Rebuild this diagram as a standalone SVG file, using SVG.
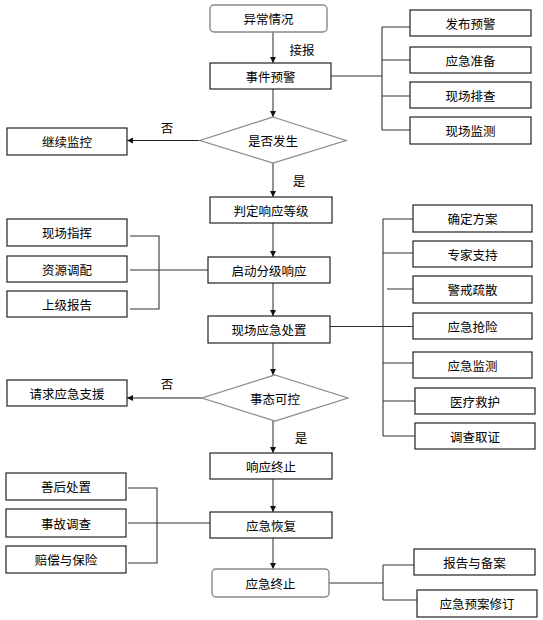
<svg xmlns="http://www.w3.org/2000/svg" width="543" height="620" viewBox="0 0 543 620">
<style>
.box{fill:#fff;stroke:#222;stroke-width:1.2}
.rbox{fill:#fff;stroke:#888;stroke-width:1.4}
.dia{fill:#fff;stroke:#888;stroke-width:1.2}
.t{font-family:"Noto Sans CJK SC","Noto Sans",sans-serif;font-size:12.5px;fill:#000;text-anchor:middle;dominant-baseline:central}
.arr{stroke:#707070;stroke-width:1.5;fill:none;marker-end:url(#ah)}
.harr{stroke:#222;stroke-width:1.2;fill:none;marker-end:url(#ah)}
.ln{stroke:#333;stroke-width:1.1;fill:none}
</style>
<defs>
<marker id="ah" viewBox="0 0 10 10" refX="10" refY="5" markerWidth="6" markerHeight="6" markerUnits="userSpaceOnUse" orient="auto">
<path d="M0,0 L10,5 L0,10 z" fill="#111"/>
</marker>
</defs>
<rect width="543" height="620" fill="#fff"/>
<g id="connectors">
<path class="arr" d="M273,32 V63"/>
<path class="arr" d="M273,89 V117"/>
<path class="harr" d="M200,140.5 H127"/>
<path class="arr" d="M273,163 V197"/>
<path class="arr" d="M273,223 V257"/>
<path class="arr" d="M273,283 V316"/>
<path class="arr" d="M273,343 V375"/>
<path class="harr" d="M202,398 H127"/>
<path class="arr" d="M273,421 V453"/>
<path class="arr" d="M273,479 V512"/>
<path class="arr" d="M273,538 V569"/>
<path class="ln" d="M331,76 H382 M382,27 V130 M382,27 H410 M382,60 H410 M382,96 H410 M382,130 H410"/>
<path class="ln" d="M130,236 H159 V309 H130 M130,270 H208"/>
<path class="ln" d="M330,326.5 H413 M383,219 V436 M383,219 H413 M383,253 H413 M387,289 H413 M383,363 H413 M383,401 H415 M383,436 H415"/>
<path class="ln" d="M128,488 H157 V563 H128 M128,523 H210"/>
<path class="ln" d="M329,583 H383 M383,565 V600 M383,565 H414 M383,600 H417"/>
<text class="t" x="302" y="49">接报</text>
<text class="t" x="167" y="127">否</text>
<text class="t" x="299" y="180">是</text>
<text class="t" x="167" y="383">否</text>
<text class="t" x="301" y="437">是</text>
</g>
<g id="n_yichang"><rect class="rbox" x="210" y="5" width="117" height="27" rx="4"/><text class="t" x="268.5" y="18.5">异常情况</text></g>
<g id="n_shijian"><rect class="box" x="210" y="63" width="121" height="26"/><text class="t" x="270.5" y="76">事件预警</text></g>
<g id="n_fabu"><rect class="box" x="410" y="10" width="121" height="26"/><text class="t" x="470.5" y="23">发布预警</text></g>
<g id="n_zhunbei"><rect class="box" x="410" y="47" width="121" height="26"/><text class="t" x="470.5" y="60">应急准备</text></g>
<g id="n_paicha"><rect class="box" x="410" y="82" width="121" height="26"/><text class="t" x="470.5" y="95">现场排查</text></g>
<g id="n_jiance"><rect class="box" x="410" y="117" width="121" height="27"/><text class="t" x="470.5" y="130.5">现场监测</text></g>
<g id="n_fasheng"><polygon class="dia" points="273,117 346,140.5 273,163 200,140.5"/><text class="t" x="273" y="140.5">是否发生</text></g>
<g id="n_jixu"><rect class="box" x="7" y="128" width="120" height="27"/><text class="t" x="67" y="141.5">继续监控</text></g>
<g id="n_panding"><rect class="box" x="210" y="197" width="122" height="26"/><text class="t" x="271" y="210">判定响应等级</text></g>
<g id="n_qidong"><rect class="box" x="208" y="257" width="122" height="26"/><text class="t" x="269" y="270">启动分级响应</text></g>
<g id="n_zhihui"><rect class="box" x="7" y="219" width="120" height="27"/><text class="t" x="67" y="232.5">现场指挥</text></g>
<g id="n_tiaopei"><rect class="box" x="7" y="256" width="120" height="26"/><text class="t" x="67" y="269">资源调配</text></g>
<g id="n_baogao"><rect class="box" x="7" y="291" width="120" height="26"/><text class="t" x="67" y="304">上级报告</text></g>
<g id="n_chuzhi"><rect class="box" x="208" y="316" width="122" height="27"/><text class="t" x="269" y="329.5">现场应急处置</text></g>
<g id="n_fangan"><rect class="box" x="413" y="205" width="119" height="27"/><text class="t" x="472.5" y="218.5">确定方案</text></g>
<g id="n_zhuanjia"><rect class="box" x="413" y="241" width="119" height="26"/><text class="t" x="472.5" y="254">专家支持</text></g>
<g id="n_jingjie"><rect class="box" x="413" y="276" width="119" height="27"/><text class="t" x="472.5" y="289.5">警戒疏散</text></g>
<g id="n_qiangxian"><rect class="box" x="413" y="313" width="119" height="26"/><text class="t" x="472.5" y="326">应急抢险</text></g>
<g id="n_yjjiance"><rect class="box" x="413" y="352" width="119" height="26"/><text class="t" x="472.5" y="365">应急监测</text></g>
<g id="n_yiliao"><rect class="box" x="415" y="388" width="120" height="26"/><text class="t" x="475" y="401">医疗救护</text></g>
<g id="n_quzheng"><rect class="box" x="415" y="423" width="120" height="26"/><text class="t" x="475" y="436">调查取证</text></g>
<g id="n_kekong"><polygon class="dia" points="275,375 348,398 275,421 202,398"/><text class="t" x="275" y="398">事态可控</text></g>
<g id="n_zhiyuan"><rect class="box" x="7" y="380" width="120" height="26"/><text class="t" x="67" y="393">请求应急支援</text></g>
<g id="n_xiangying"><rect class="box" x="210" y="453" width="122" height="26"/><text class="t" x="271" y="466">响应终止</text></g>
<g id="n_huifu"><rect class="box" x="210" y="512" width="122" height="26"/><text class="t" x="271" y="525">应急恢复</text></g>
<g id="n_shanhou"><rect class="box" x="6" y="473" width="120" height="27"/><text class="t" x="66" y="486.5">善后处置</text></g>
<g id="n_diaocha"><rect class="box" x="6" y="509" width="120" height="28"/><text class="t" x="66" y="523">事故调查</text></g>
<g id="n_peichang"><rect class="box" x="6" y="546" width="120" height="27"/><text class="t" x="66" y="559.5">赔偿与保险</text></g>
<g id="n_zhongzhi"><rect class="rbox" x="212" y="569" width="117" height="28" rx="4"/><text class="t" x="270.5" y="583">应急终止</text></g>
<g id="n_beian"><rect class="box" x="414" y="549" width="121" height="26"/><text class="t" x="474.5" y="562">报告与备案</text></g>
<g id="n_xiuding"><rect class="box" x="417" y="590" width="120" height="27"/><text class="t" x="477" y="603.5">应急预案修订</text></g>
</svg>
